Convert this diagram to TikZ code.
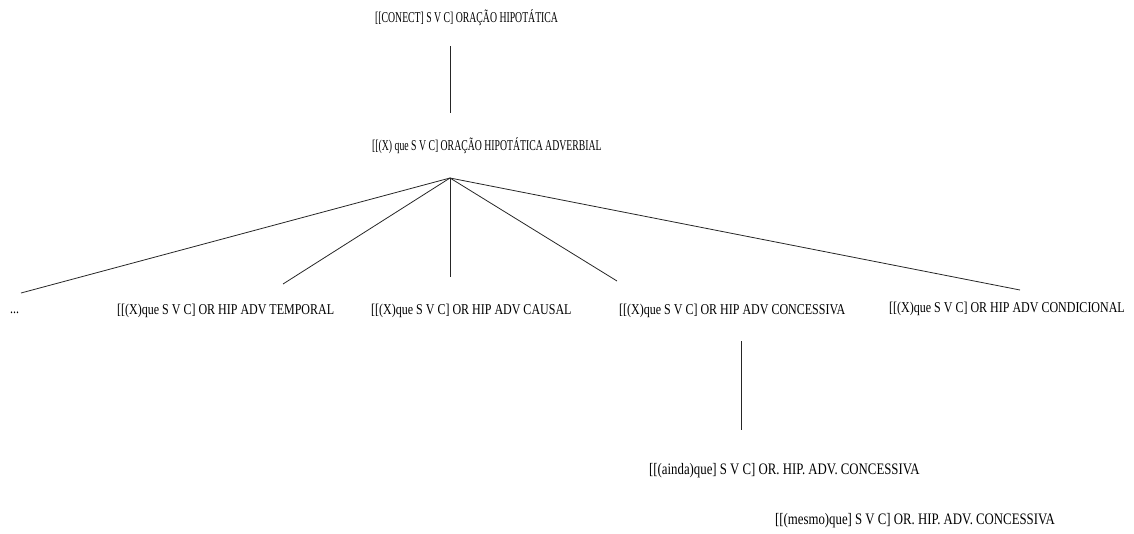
\documentclass[tikz,border=0pt]{standalone}
\usepackage{fontspec}
\setmainfont[FakeStretch=0.8]{Liberation Serif}
\newfontfamily\narrowfont[FakeStretch=0.65]{Liberation Serif}
\usepackage{tikz}
\usetikzlibrary{positioning, calc}

\begin{document}
\begin{tikzpicture}[x=1pt, y=-1pt,
  lbl/.style={anchor=west, inner sep=0pt, font=\fontsize{15}{17}\selectfont},
  headlbl/.style={lbl, font=\narrowfont\fontsize{15}{17}\selectfont},
  sublbl/.style={lbl, font=\fontsize{16}{18}\selectfont},
  branch/.style={line width=0.8pt, color=black!85}]
\useasboundingbox (0,0) rectangle (1134,533);
% labels
\node[headlbl] (top) at (375,18) {[[CONECT] S V C] ORAÇÃO HIPOTÁTICA};
\node[headlbl] (adv) at (372,146) {[[(X) que S V C] ORAÇÃO HIPOTÁTICA ADVERBIAL};
\node[lbl] (dots) at (10,313) {...};
\node[lbl] (temporal) at (117,311) {[[(X)que S V C] OR HIP ADV TEMPORAL};
\node[lbl] (causal) at (371,311) {[[(X)que S V C] OR HIP ADV CAUSAL};
\node[lbl] (concessiva) at (619,311) {[[(X)que S V C] OR HIP ADV CONCESSIVA};
\node[lbl] (condicional) at (889,309) {[[(X)que S V C] OR HIP ADV CONDICIONAL};
\node[sublbl] (ainda) at (649,471) {[[(ainda)que] S V C] OR. HIP. ADV. CONCESSIVA};
\node[sublbl] (mesmo) at (775,521) {[[(mesmo)que] S V C] OR. HIP. ADV. CONCESSIVA};
% line ends
\coordinate (t0) at (450,46);
\coordinate (t1) at (450,113);
\coordinate (hub) at (450,178);
\coordinate (e1) at (21,293);
\coordinate (e2) at (283,284);
\coordinate (e3) at (450,277);
\coordinate (e4) at (617,281);
\coordinate (e5) at (1020,290);
\coordinate (c0) at (741,341);
\coordinate (c1) at (741,430);
% connectors
\draw[branch] (t0) -- (t1);
\foreach \e in {e1,e2,e3,e4,e5} {
\draw[branch] (hub) -- (\e);
}
\draw[branch] (c0) -- (c1);
\end{tikzpicture}
\end{document}
